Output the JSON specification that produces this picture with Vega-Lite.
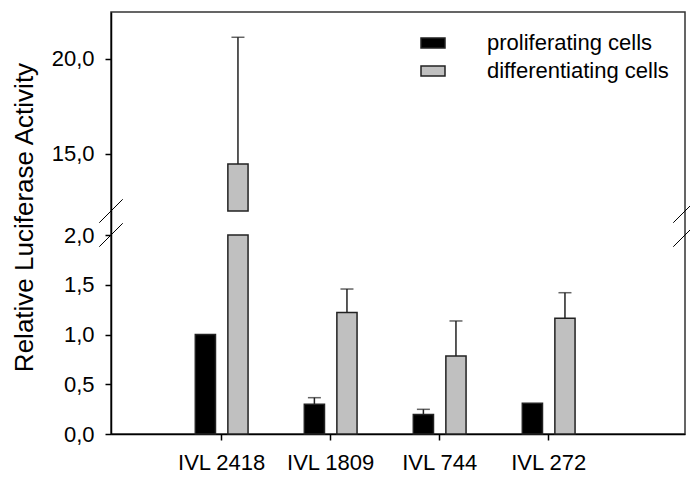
{
  "$schema": "https://vega.github.io/schema/vega-lite/v6.json",
  "width": 574,
  "height": 422,
  "autosize": {"type": "none"},
  "padding": {"left": 111, "top": 12, "right": 5, "bottom": 44},
  "background": "white",
  "config": {
    "font": "Liberation Sans",
    "view": {"stroke": "#333", "strokeWidth": 1.5},
    "axis": {"grid": false, "domainColor": "black", "domainWidth": 1.5, "tickColor": "black", "tickWidth": 1.5, "tickSize": 6, "labelFont": "Liberation Sans", "labelFontSize": 22, "labelColor": "black", "titleFont": "Liberation Sans", "titleFontWeight": "normal", "titleColor": "black"}
  },
  "datasets": {
    "bars": [
      {"construct": "IVL 2418", "cells": "proliferating cells", "value": 1.0},
      {"construct": "IVL 2418", "cells": "differentiating cells", "value": 14.47, "upper": 21.14},
      {"construct": "IVL 1809", "cells": "proliferating cells", "value": 0.30, "upper": 0.365},
      {"construct": "IVL 1809", "cells": "differentiating cells", "value": 1.22, "upper": 1.457},
      {"construct": "IVL 744", "cells": "proliferating cells", "value": 0.195, "upper": 0.248},
      {"construct": "IVL 744", "cells": "differentiating cells", "value": 0.784, "upper": 1.136},
      {"construct": "IVL 272", "cells": "proliferating cells", "value": 0.31},
      {"construct": "IVL 272", "cells": "differentiating cells", "value": 1.163, "upper": 1.42}
    ],
    "segments": [
      {"construct": "IVL 2418", "cells": "differentiating cells", "from": 0, "to": 2},
      {"construct": "IVL 2418", "cells": "differentiating cells", "from": 12, "to": 14.47}
    ],
    "breaks": [{"brk": 2}, {"brk": 12}]
  },
  "layer": [
    {
      "data": {"name": "bars"},
      "transform": [{"filter": "datum.value <= 2"}],
      "mark": {"type": "bar", "stroke": "#222", "strokeWidth": 1.5},
      "encoding": {
        "x": {
          "field": "construct", "type": "nominal",
          "sort": ["IVL 2418", "IVL 1809", "IVL 744", "IVL 272"],
          "scale": {"domain": ["IVL 2418", "IVL 1809", "IVL 744", "IVL 272"], "paddingInner": 0.516, "paddingOuter": 0.891, "align": 0.434},
          "axis": {"title": null, "labelAngle": 0, "labelPadding": 12}
        },
        "xOffset": {
          "field": "cells", "type": "nominal",
          "scale": {"domain": ["proliferating cells", "differentiating cells"], "paddingInner": 0.38, "paddingOuter": 0}
        },
        "y": {
          "field": "value", "type": "quantitative",
          "scale": {"domain": [0, 2, 12, 22.47], "range": [422, 223, 199, 0], "nice": false, "zero": false},
          "axis": {
            "title": "Relative Luciferase Activity", "titleFontSize": 26, "titleX": -87, "titleY": 205, "titleAngle": -90, "titleBaseline": "middle", "titleAlign": "center",
            "values": [0, 0.5, 1, 1.5, 2, 15, 20],
            "labelExpr": "replace(format(datum.value, '.1f'), '.', ',')",
            "labelPadding": 11
          }
        },
        "color": {
          "field": "cells", "type": "nominal",
          "scale": {"domain": ["proliferating cells", "differentiating cells"], "range": ["black", "#c0c0c0"]},
          "legend": {
            "title": null, "orient": "none", "legendX": 309, "legendY": 18, "padding": 0,
            "symbolType": "M-1,-0.4167H1V0.4167H-1Z", "symbolSize": 576,
            "symbolStrokeColor": "#222", "symbolStrokeWidth": 1.5,
            "labelFontSize": 22, "labelFont": "Liberation Sans", "labelColor": "black",
            "labelOffset": 41, "rowPadding": 4, "labelLimit": 0
          }
        }
      }
    },
    {
      "data": {"name": "segments"},
      "mark": {"type": "bar", "stroke": "#222", "strokeWidth": 1.5},
      "encoding": {
        "x": {"field": "construct", "type": "nominal"},
        "xOffset": {"field": "cells", "type": "nominal"},
        "y": {"field": "from", "type": "quantitative"},
        "y2": {"field": "to"},
        "color": {"field": "cells", "type": "nominal"}
      }
    },
    {
      "data": {"name": "bars"},
      "transform": [{"filter": "isValid(datum.upper)"}],
      "mark": {"type": "rule", "color": "#222", "strokeWidth": 1.5},
      "encoding": {
        "x": {"field": "construct", "type": "nominal"},
        "xOffset": {"field": "cells", "type": "nominal"},
        "y": {"field": "value", "type": "quantitative"},
        "y2": {"field": "upper"}
      }
    },
    {
      "data": {"name": "bars"},
      "transform": [{"filter": "isValid(datum.upper)"}],
      "mark": {"type": "tick", "color": "#222", "thickness": 1.5, "size": 13},
      "encoding": {
        "x": {"field": "construct", "type": "nominal"},
        "xOffset": {"field": "cells", "type": "nominal"},
        "y": {"field": "upper", "type": "quantitative"}
      }
    },
    {
      "data": {"name": "breaks"},
      "mark": {"type": "point", "shape": "M-1,1L1,-1", "size": 552, "filled": false, "stroke": "black", "strokeWidth": 1, "opacity": 1},
      "encoding": {
        "x": {"value": 0},
        "y": {"field": "brk", "type": "quantitative"}
      }
    },
    {
      "data": {"name": "breaks"},
      "mark": {"type": "point", "shape": "M-1,1L1,-1", "size": 552, "filled": false, "stroke": "black", "strokeWidth": 1, "opacity": 1},
      "encoding": {
        "x": {"value": {"expr": "width"}},
        "y": {"field": "brk", "type": "quantitative"}
      }
    }
  ]
}
